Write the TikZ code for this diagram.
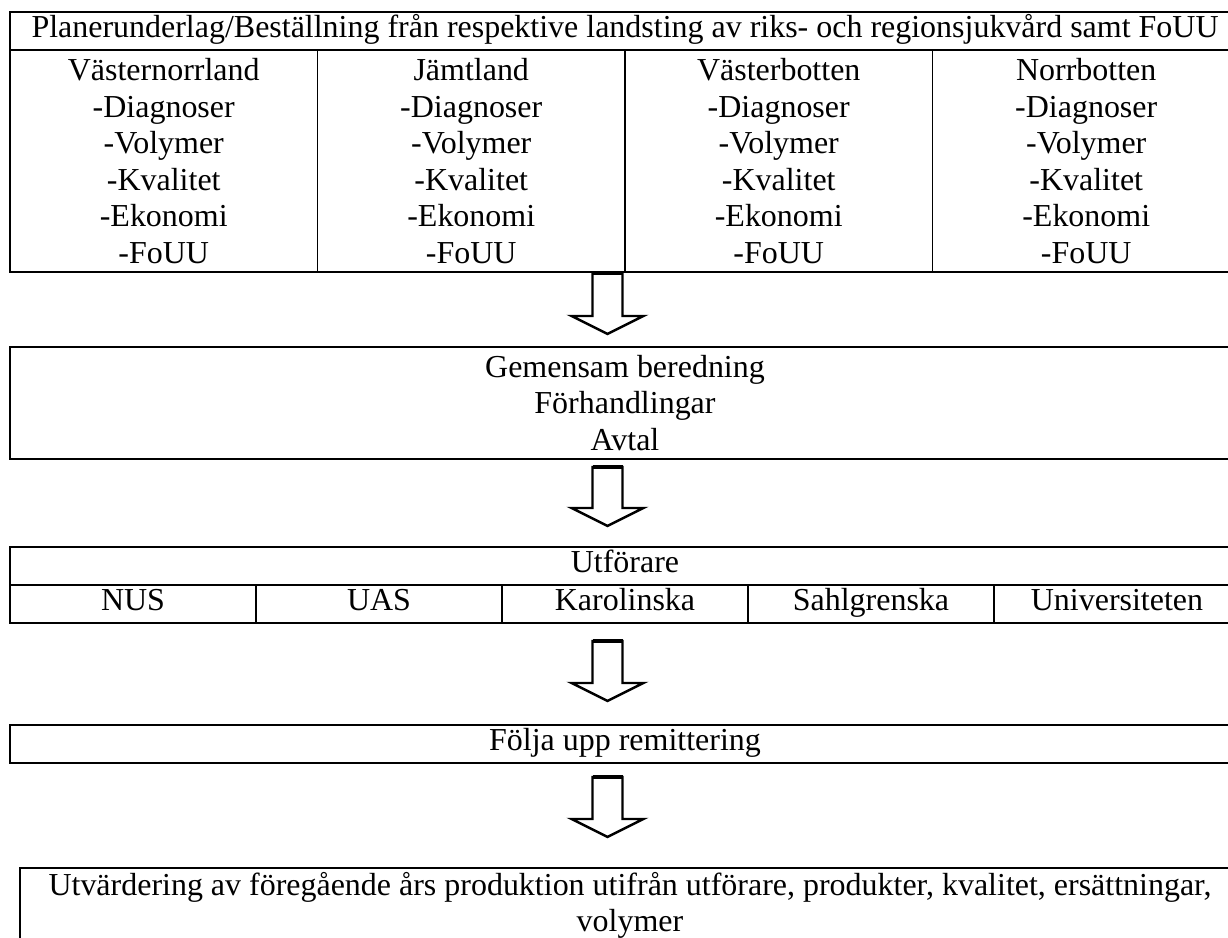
\documentclass[tikz,border=0pt]{standalone}
\usepackage{fontspec}
\setmainfont{Liberation Serif}
\usepackage{tikz}
\usetikzlibrary{positioning}
\newcommand{\px}{0.366pt}
\newcommand{\pil}[2]{\draw[pil] (#1) ++(-15,0) -- ++(0,#2) -- ++(-21,0) -- ++(36,18) -- ++(36,-18) -- ++(-21,0) -- ++(0,-#2) -- cycle;
  \draw[line width=1.4pt] (#1) ++(-15,0) -- ++(30,0);}

\begin{document}
\begin{tikzpicture}[x=0.366pt,y=-0.366pt,
  box/.style={draw, line width=0.7pt, inner sep=0pt, outer sep=0pt, align=center,
    font=\fontsize{11.7}{13.4}\selectfont},
  rad/.style={minimum width=1230*\px, minimum height=38*\px, text height=0.72em, text depth=0.22em},
  lan/.style={minimum width=307.5*\px, minimum height=222*\px},
  enhet/.style={minimum width=246*\px, minimum height=38*\px, text height=0.72em, text depth=0.22em},
  pil/.style={draw, line width=0.9pt, line join=miter}]
\useasboundingbox (0,0) rectangle (1228,938);

\node (plan) at (625,31) [box, rad]
  {Planerunderlag/Beställning från respektive landsting av riks- och regionsjukvård samt FoUU};
\node (vnorr) [box, lan, anchor=north west] at (plan.south west)
  {Västernorrland\\-Diagnoser\\-Volymer\\-Kvalitet\\-Ekonomi\\-FoUU};
\node (jamt) [box, lan, right=0pt of vnorr]
  {Jämtland\\-Diagnoser\\-Volymer\\-Kvalitet\\-Ekonomi\\-FoUU};
\node (vbott) [box, lan, right=0pt of jamt]
  {Västerbotten\\-Diagnoser\\-Volymer\\-Kvalitet\\-Ekonomi\\-FoUU};
\node (nbott) [box, lan, right=0pt of vbott]
  {Norrbotten\\-Diagnoser\\-Volymer\\-Kvalitet\\-Ekonomi\\-FoUU};

\node (beredning) at (625,403) [box, minimum width=1230*\px, minimum height=112*\px]
  {Gemensam beredning\\Förhandlingar\\Avtal};

\node (utf) at (625,566) [box, rad] {Utförare};
\node (nus) [box, enhet, anchor=north west] at (utf.south west) {NUS};
\node (uas) [box, enhet, right=0pt of nus] {UAS};
\node (karo) [box, enhet, right=0pt of uas] {Karolinska};
\node (sahl) [box, enhet, right=0pt of karo] {Sahlgrenska};
\node (univ) [box, enhet, right=0pt of sahl] {Universiteten};

\node (folja) at (625,744) [box, rad] {Följa upp remittering};

\node (utv) at (630,905.5) [box, minimum width=1220*\px, minimum height=75*\px]
  {Utvärdering av föregående års produktion utifrån utförare, produkter, kvalitet, ersättningar,\\volymer};

% pilar
\coordinate (pil1) at (607.5,273);
\coordinate (pil2) at (607.5,467);
\coordinate (pil3) at (607.5,641);
\coordinate (pil4) at (607.5,777);
\pil{pil1}{43}
\pil{pil2}{41}
\pil{pil3}{42}
\pil{pil4}{42}

\end{tikzpicture}
\end{document}
